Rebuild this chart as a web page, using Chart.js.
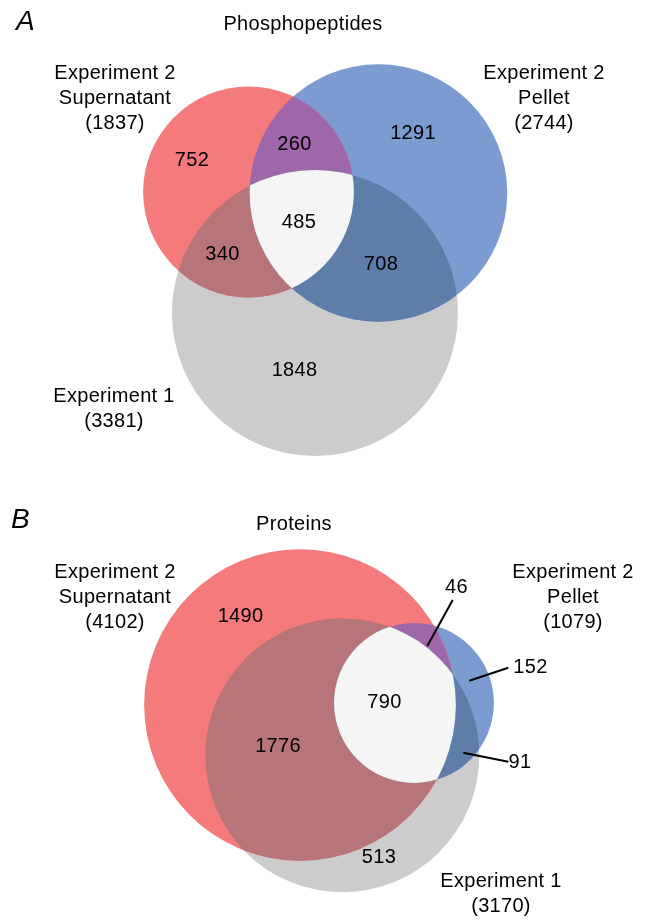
<!DOCTYPE html>
<html>
<head>
<meta charset="utf-8">
<script src="https://cdn.jsdelivr.net/npm/chart.js@4"></script>
<style>
  body { margin: 0; background: #fff; }
  canvas { display: block; }
</style>
</head>
<body>
<canvas id="phospho" width="648" height="460"></canvas>
<canvas id="proteins" width="648" height="460"></canvas>
<script>
// sets: Experiment 2 Supernatant, Experiment 2 Pellet, Experiment 1
var setNames = [['Experiment 2', 'Supernatant'], ['Experiment 2', 'Pellet'], ['Experiment 1']];

// region order: S only, P only, E1 only, S&P, S&E1, P&E1, all three
var phosphoTotals = [1837, 2744, 3381];
var phosphoRegions = [752, 1291, 1848, 260, 340, 708, 485];

var proteinTotals = [4102, 1079, 3170];
var proteinRegions = [1490, 152, 513, 46, 1776, 91, 790];

var setColors = ['#f47a7c', '#7b9bd1', '#cccccc'];
var pairColors = ['#9d67a9', '#b77479', '#5e7da9']; // S&P, S&E1, P&E1
var centerColor = '#f5f5f5';
var FONT = '"Liberation Sans", Arial, Helvetica, sans-serif';

function lensArea(r1, r2, d) {
  if (d >= r1 + r2) return 0;
  if (d <= Math.abs(r1 - r2)) return Math.PI * Math.min(r1, r2) * Math.min(r1, r2);
  var a = r1 * r1 * Math.acos((d * d + r1 * r1 - r2 * r2) / (2 * d * r1));
  var b = r2 * r2 * Math.acos((d * d + r2 * r2 - r1 * r1) / (2 * d * r2));
  var c = 0.5 * Math.sqrt((-d + r1 + r2) * (d + r1 - r2) * (d - r1 + r2) * (d + r1 + r2));
  return a + b - c;
}

function distFor(r1, r2, area) {
  var lo = Math.abs(r1 - r2), hi = r1 + r2;
  for (var i = 0; i < 80; i++) {
    var mid = (lo + hi) / 2;
    if (lensArea(r1, r2, mid) > area) lo = mid; else hi = mid;
  }
  return (lo + hi) / 2;
}

// area-proportional layout, anchored on the first circle
function layout(totals, regions, pxPerItem, anchor, angle) {
  var r = totals.map(function (t) { return Math.sqrt(t * pxPerItem / Math.PI); });
  var ov = [regions[3] + regions[6], regions[4] + regions[6], regions[5] + regions[6]];
  var d12 = distFor(r[0], r[1], ov[0] * pxPerItem);
  var d13 = distFor(r[0], r[2], ov[1] * pxPerItem);
  var d23 = distFor(r[1], r[2], ov[2] * pxPerItem);
  var A = Math.acos((d12 * d12 + d13 * d13 - d23 * d23) / (2 * d12 * d13));
  var c1 = anchor;
  var c2 = [c1[0] + d12 * Math.cos(angle), c1[1] + d12 * Math.sin(angle)];
  var c3 = [c1[0] + d13 * Math.cos(angle + A), c1[1] + d13 * Math.sin(angle + A)];
  return [c1, c2, c3].map(function (c, i) { return { x: c[0], y: c[1], r: r[i] }; });
}

function circlePath(ctx, el) {
  ctx.beginPath();
  ctx.arc(el.x, el.y, el.options.radius, 0, Math.PI * 2);
}

var overlapPlugin = {
  id: 'overlaps',
  afterDatasetsDraw: function (chart) {
    var ctx = chart.ctx;
    var els = [0, 1, 2].map(function (i) { return chart.getDatasetMeta(i).data[0]; });
    var pairs = [[0, 1], [0, 2], [1, 2]];
    pairs.forEach(function (p, k) {
      ctx.save();
      circlePath(ctx, els[p[0]]); ctx.clip();
      circlePath(ctx, els[p[1]]); ctx.clip();
      ctx.fillStyle = pairColors[k];
      ctx.fillRect(0, 0, chart.width, chart.height);
      ctx.restore();
    });
    ctx.save();
    els.forEach(function (el) { circlePath(ctx, el); ctx.clip(); });
    ctx.fillStyle = centerColor;
    ctx.fillRect(0, 0, chart.width, chart.height);
    ctx.restore();
  }
};

var textPlugin = {
  id: 'texts',
  afterDraw: function (chart) {
    var t = chart.options.plugins.texts;
    var ctx = chart.ctx;
    ctx.save();
    ctx.fillStyle = '#000';
    ctx.textBaseline = 'alphabetic';
    ctx.letterSpacing = '0.3px';
    ctx.font = '20px ' + FONT;
    ctx.textAlign = 'center';
    ctx.fillText(t.title, t.titlePos[0], t.titlePos[1]);
    t.setLabelPos.forEach(function (p, i) {
      var lines = setNames[i].concat(['(' + t.totals[i] + ')']);
      lines.forEach(function (s, j) { ctx.fillText(s, p[0], p[1] + j * 25); });
    });
    t.regionPos.forEach(function (p, i) {
      ctx.fillText(String(t.regions[i]), p[0], p[1]);
    });
    ctx.strokeStyle = '#000';
    ctx.lineWidth = 2;
    (t.leaders || []).forEach(function (l) {
      ctx.beginPath(); ctx.moveTo(l[0], l[1]); ctx.lineTo(l[2], l[3]); ctx.stroke();
    });
    ctx.font = 'italic 28px ' + FONT;
    ctx.textAlign = 'left';
    ctx.letterSpacing = '0px';
    ctx.fillText(t.letter, t.letterPos[0], t.letterPos[1]);
    ctx.restore();
  }
};

function makeVenn(id, totals, regions, circles, texts) {
  texts.totals = totals;
  texts.regions = regions;
  return new Chart(id, {
    type: 'bubble',
    data: {
      datasets: circles.map(function (c, i) {
        return {
          label: setNames[i].join(' '),
          data: [c],
          backgroundColor: setColors[i],
          borderWidth: 0,
          hoverRadius: 0,
          clip: false
        };
      })
    },
    options: {
      responsive: false,
      animation: false,
      events: [],
      layout: { padding: 0, autoPadding: false },
      scales: {
        x: { type: 'linear', min: 0, max: 648, display: false },
        y: { type: 'linear', min: 0, max: 460, reverse: true, display: false }
      },
      plugins: { legend: { display: false }, tooltip: { enabled: false }, texts: texts }
    },
    plugins: [overlapPlugin, textPlugin]
  });
}

var phosphoCircles = layout(phosphoTotals, phosphoRegions, 19.0, [248.5, 192], 0.0077);
makeVenn('phospho', phosphoTotals, phosphoRegions, phosphoCircles, {
  title: 'Phosphopeptides', titlePos: [303, 30],
  letter: 'A', letterPos: [16, 30],
  setLabelPos: [[115, 79], [544, 79], [114, 402]],
  regionPos: [[192, 166], [413, 139], [294.5, 376], [294.5, 150], [222.5, 260], [381, 270], [299, 228]]
});

var proteinCircles = layout(proteinTotals, proteinRegions, 18.6, [300, 245], -0.018);
makeVenn('proteins', proteinTotals, proteinRegions, proteinCircles, {
  title: 'Proteins', titlePos: [294, 70],
  letter: 'B', letterPos: [11, 68],
  setLabelPos: [[115, 118], [573, 118], [501, 427]],
  regionPos: [[240.5, 162], [530.5, 213], [379, 403], [456.5, 133], [278, 292], [520, 308], [384.5, 248]],
  leaders: [[452.7, 140, 427.3, 186], [508.3, 207.7, 469.3, 220.7], [508.3, 301.7, 463.3, 292.7]]
});
</script>
</body>
</html>
